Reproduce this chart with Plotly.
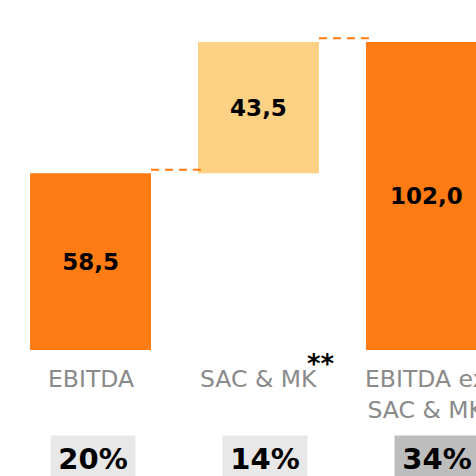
import plotly.graph_objects as go

categories = ["EBITDA", "SAC & MK", "EBITDA ex<br>SAC & MK"]
values = [58.5, 43.5, 102.0]
kinds = ["total", "delta", "total"]
percents = ["20%", "14%", "34%"]

ORANGE = "#FF7B13"
LIGHT = "#FDD184"
bar_colors = [ORANGE, LIGHT, ORANGE]
box_colors = ["#E8E8E8", "#E8E8E8", "#BDBDBD"]

# bases for floating bars
bases = []
running = 0.0
for v, k in zip(values, kinds):
    if k == "total":
        bases.append(0.0)
        running = v
    else:
        bases.append(running)
        running += v
tops = [b + v for b, v in zip(bases, values)]

xs = list(range(len(categories)))
W = 0.72

fig = go.Figure()
fig.add_trace(go.Bar(
    x=xs, y=values, base=bases, width=W,
    marker=dict(color=bar_colors, line=dict(width=0)),
    text=[f"{v:.1f}".replace(".", ",") for v in values],
    textposition="inside", insidetextanchor="middle",
    textfont=dict(family="DejaVu Sans", size=23, color="black", weight="bold"),
    hoverinfo="skip", cliponaxis=False,
))

shapes = []
for i in range(len(xs) - 1):
    y = tops[i] + 1.2
    shapes.append(dict(type="line", xref="x", yref="y",
                       x0=xs[i] + W / 2, x1=xs[i + 1] - W / 2 + 0.02,
                       y0=y, y1=y,
                       line=dict(color=ORANGE, width=2, dash="8px,6px")))

annotations = []
for i, c in enumerate(categories):
    annotations.append(dict(x=xs[i], y=0, xref="x", yref="paper",
                            yanchor="top", yshift=-13, showarrow=False,
                            text=c, align="center",
                            font=dict(family="DejaVu Sans", size=23.5, color="#8A8A8A")))
annotations.append(dict(x=xs[1], y=0, xref="x", yref="paper", xshift=63,
                        yanchor="top", yshift=3, showarrow=False, text="**",
                        font=dict(family="DejaVu Sans", size=26, color="black", weight="bold")))
shifts = [2.5, 6.5, 10.5]
for i, p in enumerate(percents):
    annotations.append(dict(x=xs[i], y=0, xref="x", yref="paper",
                            yanchor="top", yshift=-85, xshift=shifts[i], showarrow=False,
                            text=p, width=84, height=46, bgcolor=box_colors[i],
                            borderpad=0, valign="middle",
                            font=dict(family="DejaVu Sans", size=29, color="black", weight="bold")))

fig.update_layout(
    width=476, height=476,
    margin=dict(l=0, r=0, t=0, b=126),
    paper_bgcolor="white", plot_bgcolor="white",
    xaxis=dict(range=[-0.539, 2.295], visible=False),
    yaxis=dict(range=[0, 115.9], visible=False),
    showlegend=False, shapes=shapes, annotations=annotations,
    uniformtext=dict(mode=False),
)
fig.write_html("out.html", config={"displayModeBar": False},
               post_script="document.body.style.margin='0px';document.body.style.overflow='hidden';")
